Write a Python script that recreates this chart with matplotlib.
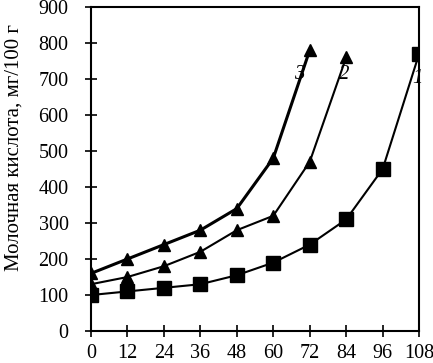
import numpy as np
import matplotlib
matplotlib.use("Agg")
import matplotlib.pyplot as plt

hours = [0, 12, 24, 36, 48, 60, 72, 84, 96, 108]
s1 = [100, 110, 120, 130, 155, 190, 240, 310, 450, 770]
s2 = [130, 150, 180, 220, 280, 320, 470, 760]
s3 = [160, 200, 240, 280, 340, 480, 780]
ylabel = "Молочная кислота, мг/100 г"

plt.rcParams['font.family'] = ['Liberation Serif', 'DejaVu Serif']

fig = plt.figure(figsize=(4.33, 3.63), dpi=100)
ax = fig.add_axes([0.21, 0.088, 0.758, 0.893])

ax.plot(hours, s1, color='black', lw=1.5, marker='s', ms=10, zorder=3)
ax.plot(hours[:len(s2)], s2, color='black', lw=1.5, marker='^', ms=9, zorder=3)
ax.plot(hours[:len(s3)], s3, color='black', lw=2.2, marker='^', ms=9, zorder=3)

ax.text(68.5, 712, "3", fontsize=15, style='italic', ha='center', va='center')
ax.text(83.3, 712, "2", fontsize=15, style='italic', ha='center', va='center')
ax.text(107.6, 700, "1", fontsize=15, style='italic', ha='center', va='center')

ax.set_xlim(0, 108)
ax.set_ylim(0, 900)
ax.set_xticks(hours)
ax.set_yticks(np.arange(0, 901, 100))
ax.tick_params(direction='inout', length=8, width=1.2, labelsize=14.5)
ax.tick_params(axis='y', pad=12)
ax.tick_params(axis='x', pad=5)
for sp in ax.spines.values():
    sp.set_linewidth(1.5)
ax.set_ylabel(ylabel, fontsize=15, va='center')
ax.yaxis.set_label_coords(-0.235, 0.565)

fig.savefig("out.png", dpi=100)
